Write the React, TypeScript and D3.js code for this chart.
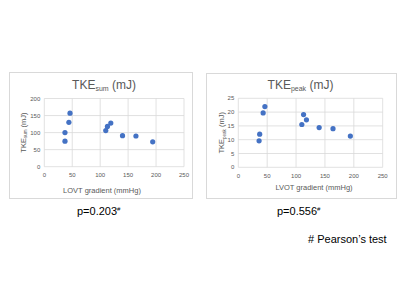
import React from "react";
import * as d3 from "d3";

const gradientSum = [37, 37, 44, 46, 110, 113, 119, 140, 164, 194];
const tkeSum = [75, 100, 130, 157, 106, 118, 128, 91, 90, 73];
const gradientPeak = [36, 37, 43, 46, 110, 113, 118, 140, 164, 194];
const tkePeak = [9.6, 12, 19.7, 22, 15.5, 19.1, 17.2, 14.4, 14, 11.3];
const xTicks = [0, 50, 100, 150, 200, 250];
const yTicksSum = [0, 50, 100, 150, 200];
const yTicksPeak = [0, 5, 10, 15, 20, 25];

const FONT = "'Liberation Sans', Arial, sans-serif";
const GRID = "#d9d9d9";
const TXT = "#595959";
const DOT = "#4472C4";

type PanelProps = {
  box: [number, number, number, number];
  plot: [number, number, number, number];
  xs: number[];
  ys: number[];
  yMax: number;
  yTicks: number[];
  sub: string;
  titleX: number;
  titleY: number;
  xTitle: string;
  xTitleX: number;
  xTitleY: number;
  yTitleX: number;
};

function Panel(p: PanelProps) {
  const [bx0, by0, bx1, by1] = p.box;
  const [px0, py0, px1, py1] = p.plot;
  const x = d3.scaleLinear().domain([0, 250]).range([px0, px1]);
  const y = d3.scaleLinear().domain([0, p.yMax]).range([py1, py0]);
  const yMid = (py0 + py1) / 2;
  return (
    <g fontFamily={FONT}>
      <rect x={bx0 + 0.5} y={by0 + 0.5} width={bx1 - bx0} height={by1 - by0} fill="#fff" stroke={GRID} strokeWidth={1} />
      {p.yTicks.map((t) => (
        <line key={"h" + t} x1={px0} x2={px1} y1={y(t)} y2={y(t)} stroke={GRID} strokeWidth={0.8} />
      ))}
      {xTicks.map((t) => (
        <line key={"v" + t} x1={x(t)} x2={x(t)} y1={py0} y2={py1} stroke={GRID} strokeWidth={0.8} />
      ))}
      {p.yTicks.map((t) => (
        <text key={"yl" + t} x={px0 - 4} y={y(t) + 2} fontSize={6} fill={TXT} textAnchor="end">{t}</text>
      ))}
      {xTicks.map((t) => (
        <text key={"xl" + t} x={x(t)} y={py1 + 10.5} fontSize={6} fill={TXT} textAnchor="middle">{t}</text>
      ))}
      {p.xs.map((v, i) => (
        <circle key={"d" + i} cx={x(v)} cy={y(p.ys[i])} r={2.6} fill={DOT} />
      ))}
      <text x={p.titleX} y={p.titleY} fontSize={12} fill={TXT} textAnchor="middle">
        TKE<tspan fontSize={7} dy={2}>{p.sub}</tspan><tspan dy={-2}> (mJ)</tspan>
      </text>
      <text x={p.xTitleX} y={p.xTitleY} fontSize={7.5} fill={TXT} textAnchor="middle">{p.xTitle}</text>
      <text transform={`translate(${p.yTitleX},${yMid}) rotate(-90)`} fontSize={7.5} fill={TXT} textAnchor="middle">
        TKE<tspan fontSize={4.5} dy={1.5}>{p.sub}</tspan><tspan dy={-1.5}> (mJ)</tspan>
      </text>
    </g>
  );
}

export default function App() {
  return (
    <svg width={400} height={300} style={{ position: "absolute", left: 0, top: 0 }}>
      <rect width={400} height={300} fill="#fff" />
      <Panel
        box={[9, 72, 192, 198]}
        plot={[44.3, 98.5, 184, 166.7]}
        xs={gradientSum}
        ys={tkeSum}
        yMax={200}
        yTicks={yTicksSum}
        sub="sum"
        titleX={104}
        titleY={89}
        xTitle="LOVT gradient (mmHg)"
        xTitleX={102}
        xTitleY={192.5}
        yTitleX={25.5}
      />
      <Panel
        box={[206, 73, 396, 198]}
        plot={[238.3, 98.3, 382.7, 167.3]}
        xs={gradientPeak}
        ys={tkePeak}
        yMax={25}
        yTicks={yTicksPeak}
        sub="peak"
        titleX={300.5}
        titleY={88.5}
        xTitle="LVOT gradient (mmHg)"
        xTitleX={314}
        xTitleY={189.5}
        yTitleX={224}
      />
      <g fontFamily={FONT} fill="#000">
        <text x={77} y={215} fontSize={11}>p=0.203<tspan fontSize={6} dy={-4}>#</tspan></text>
        <text x={277} y={215} fontSize={11}>p=0.556<tspan fontSize={6} dy={-4}>#</tspan></text>
        <text x={308} y={243} fontSize={11}># Pearson’s test</text>
      </g>
    </svg>
  );
}
